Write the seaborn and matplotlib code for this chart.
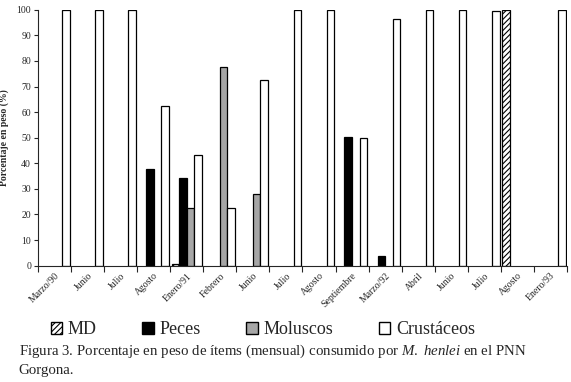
import numpy as np
import pandas as pd
import matplotlib
matplotlib.use("Agg")
import matplotlib.pyplot as plt
import seaborn as sns
from matplotlib.patches import Patch

nan = np.nan

# 1. Data (porcentaje en peso por mes)
meses = ["Marzo/90", "Junio", "Julio", "Agosto", "Enero/91", "Febrero", "Junio", "Julio",
         "Agosto", "Septiembre", "Marzo/92", "Abril", "Junio", "Julio", "Agosto", "Enero/93"]
md = [nan, nan, nan, nan, 0.5, nan, nan, nan, nan, nan, nan, nan, nan, nan, 100, nan]
peces = [nan, nan, nan, 37.7, 34.3, nan, nan, nan, nan, 50.2, 3.6, nan, nan, nan, nan, nan]
moluscos = [nan, nan, nan, nan, 22.4, 77.6, 27.9, nan, nan, nan, nan, nan, nan, nan, nan, nan]
crustaceos = [100, 100, 100, 62.5, 43.3, 22.4, 72.4, 100, 100, 50.0, 96.2, 100, 100, 99.6, nan, 100]
grupos = ["MD", "Peces", "Moluscos", "Crustáceos"]

df = pd.DataFrame({
    "mes": list(range(len(meses))) * 4,
    "grupo": np.repeat(grupos, len(meses)),
    "valor": md + peces + moluscos + crustaceos,
})

colores = {"MD": "white", "Peces": "black", "Moluscos": "#a6a6a6", "Crustáceos": "white"}

# 2. Plot
sns.set_style("ticks")
plt.rcParams["font.family"] = ["Liberation Serif", "DejaVu Serif"]
plt.rcParams["mathtext.fontset"] = "custom"
plt.rcParams["mathtext.rm"] = "Liberation Serif"
plt.rcParams["mathtext.it"] = "Liberation Serif:italic"
plt.rcParams["hatch.linewidth"] = 0.8

fig = plt.figure(figsize=(5.71, 3.82), dpi=100)
ax = fig.add_axes([0.0665, 0.3045, 0.9265, 0.670])

sns.barplot(data=df, x="mes", y="valor", hue="grupo", hue_order=grupos,
            palette=colores, width=0.92, edgecolor="black", linewidth=0.9,
            legend=False, ax=ax)

for patch in ax.containers[0]:
    patch.set_hatch("//////")

ax.set_ylim(0, 100)
ax.set_xlim(-0.5, len(meses) - 0.5)
ax.set_yticks(range(0, 101, 10))
ax.tick_params(axis="y", labelsize=7, length=3, width=0.8, pad=2)
ax.set_xticks(range(len(meses)))
ax.set_xticklabels(meses, rotation=45, ha="right", rotation_mode="anchor", fontsize=7)
ax.tick_params(axis="x", which="major", length=0, pad=4)
ax.set_xticks(np.arange(-0.5, len(meses), 1), minor=True)
ax.tick_params(axis="x", which="minor", length=4, width=0.8, direction="out")
ax.set_xlabel("")
ax.set_ylabel("Porcentaje en peso (%)", fontsize=7, fontweight="bold", labelpad=5)
sns.despine(ax=ax)
for s in ["left", "bottom"]:
    ax.spines[s].set_linewidth(0.8)

handles = [Patch(facecolor="white", edgecolor="black", hatch="//////", label="MD"),
           Patch(facecolor="black", edgecolor="black", label="Peces"),
           Patch(facecolor="#a6a6a6", edgecolor="black", label="Moluscos"),
           Patch(facecolor="white", edgecolor="black", label="Crustáceos")]
fig.legend(handles=handles, loc="center left", bbox_to_anchor=(0.073, 0.137), ncol=4,
           frameon=False, fontsize=13, handlelength=0.65, handleheight=0.65,
           handletextpad=0.3, columnspacing=2.52, borderpad=0)

fig.text(0.033, 0.079, r"Figura 3. Porcentaje en peso de ítems (mensual) consumido por "
         r"$\it{M.}$ $\it{henlei}$ en el PNN", fontsize=10.75, va="center")
fig.text(0.033, 0.031, "Gorgona.", fontsize=10.75, va="center")

fig.savefig("out.png", dpi=100)
